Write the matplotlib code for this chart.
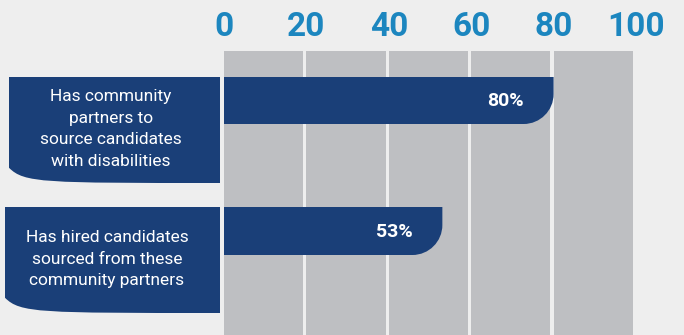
import matplotlib
matplotlib.use("Agg")
import matplotlib.pyplot as plt
from matplotlib.path import Path
from matplotlib.patches import PathPatch

# data
categories = ["Has community\npartners to\nsource candidates\nwith disabilities",
              "Has hired candidates\nsourced from these\ncommunity partners"]
values = [80, 53]
ticks = [0, 20, 40, 60, 80, 100]

BG = "#EEEEEE"
COL = "#BEBFC2"
NAVY = "#1A3F78"
BLUE = "#1C86BF"

W, H = 684, 335
X0 = 224      # pixel of value 0
K = 4.12      # pixels per unit

def ux(px):
  return (px - X0) / K

def rounded(x0, x1, y0, y1, r, corner):
  rx, ry = r / K, r
  k = 0.5523
  if corner == "br":
    verts = [(x0, y0), (x1, y0), (x1, y1 - ry),
             (x1, y1 - ry * (1 - k)), (x1 - rx * (1 - k), y1), (x1 - rx, y1),
             (x0, y1), (x0, y0)]
  else:
    verts = [(x0, y0), (x1, y0), (x1, y1), (x0 + rx, y1),
             (x0 + rx * (1 - k), y1), (x0, y1 - ry * (1 - k)), (x0, y1 - ry),
             (x0, y0)]
  codes = [Path.MOVETO, Path.LINETO, Path.LINETO,
           Path.CURVE4, Path.CURVE4, Path.CURVE4,
           Path.LINETO, Path.CLOSEPOLY]
  return Path(verts, codes)

fig = plt.figure(figsize=(W / 100, H / 100), dpi=100)
fig.patch.set_facecolor(BG)
ax = fig.add_axes([0, 0, 1, 1])
ax.set_facecolor(BG)
ax.set_xlim(ux(0), ux(W))
ax.set_ylim(H, 0)
ax.axis("off")

# gray columns
for t in ticks[:-1]:
  ax.axvspan(t, t + 19.2, ymin=0, ymax=(H - 51) / H, color=COL, lw=0, zorder=1)

# tick labels
for t in ticks:
  ax.text(t, 27, str(t), ha="center", va="center", color=BLUE, fontsize=24,
          fontweight="bold", family="Roboto")

rows = [(77, 124, 9, 183, 111), (207, 255, 5, 313, 107)]
for (bt, bb, lx, lb, tx), cat, v in zip(rows, categories, values):
  ax.add_patch(PathPatch(rounded(0, v, bt, bb, 30, "br"), fc=NAVY, ec="none", zorder=2))
  ax.add_patch(PathPatch(rounded(ux(lx), ux(220), bt, lb, 34, "bl"), fc=NAVY, ec="none", zorder=2))
  ax.text(ux(tx), (bt + lb) / 2 - 1, cat, ha="center", va="center", color="white",
          fontsize=12.5, family="Roboto", linespacing=1.55, zorder=3)
  ax.text(v - 48 / K, (bt + bb) / 2 + 1, f"{v}%", ha="center", va="center", color="white",
          fontsize=14, fontweight="bold", family="Roboto", zorder=3)

fig.savefig("out.png", dpi=100, facecolor=BG)
